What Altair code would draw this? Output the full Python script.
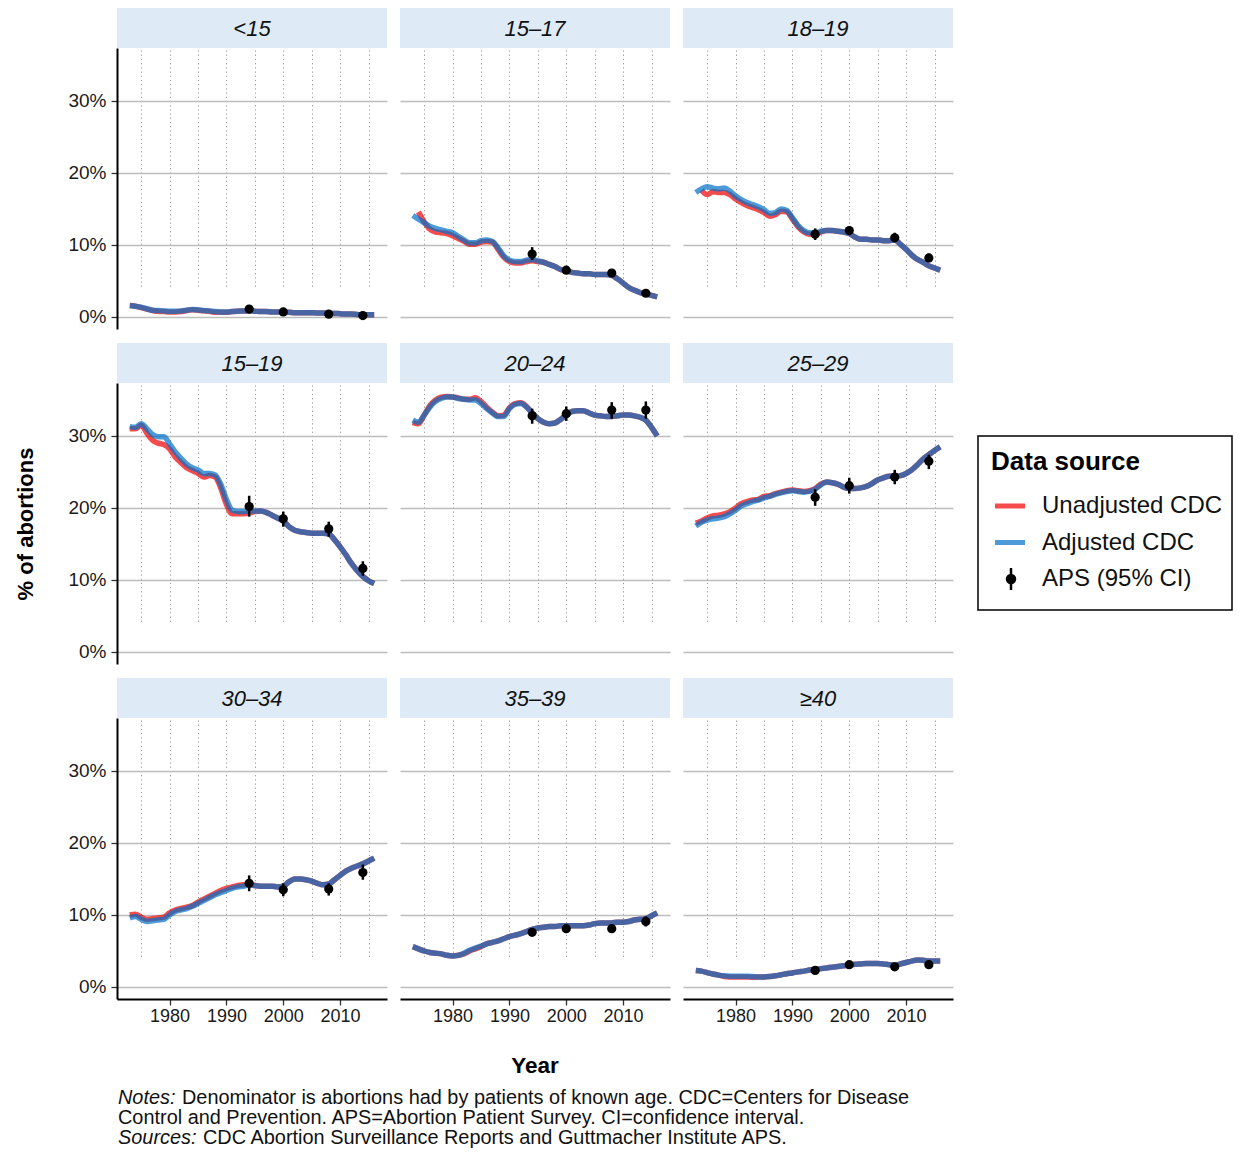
import altair as alt
import pandas as pd

# ---------------- data ----------------
YEARS = list(range(1973, 2017))
GROUPS = ["<15", "15–17", "18–19", "15–19", "20–24", "25–29", "30–34", "35–39", "≥40"]

ADJUSTED = {
    "<15": [1.55, 1.5, 1.35, 1.15, 0.95, 0.9, 0.85, 0.8, 0.8, 0.85,
            0.95, 1.05, 1.0, 0.9, 0.85, 0.75, 0.7, 0.7, 0.75, 0.8,
            0.85, 0.85, 0.8, 0.75, 0.75, 0.7, 0.7, 0.65, 0.65, 0.6,
            0.6, 0.6, 0.6, 0.55, 0.55, 0.5, 0.5, 0.45, 0.4, 0.4,
            0.35, 0.3, 0.3, 0.3],
    "15–17": [14.1, 13.6, 13.1, 12.6, 12.3, 12.1, 11.9, 11.7, 11.2, 10.7,
              10.3, 10.3, 10.6, 10.7, 10.5, 9.6, 8.5, 7.9, 7.7, 7.7,
              7.9, 8.0, 7.8, 7.6, 7.3, 7.0, 6.6, 6.4, 6.2, 6.1,
              6.0, 6.0, 5.9, 5.9, 5.9, 5.8, 5.3, 4.7, 4.1, 3.7,
              3.4, 3.2, 3.0, 2.8],
    "18–19": [17.3, 17.8, 18.1, 17.9, 17.8, 17.9, 17.5, 16.8, 16.3, 15.9,
              15.6, 15.3, 14.9, 14.4, 14.5, 15.0, 14.8, 13.8, 12.7, 12.0,
              11.7, 11.7, 11.9, 12.0, 12.0, 11.9, 11.8, 11.6, 11.1, 10.8,
              10.8, 10.7, 10.7, 10.6, 10.6, 10.7, 10.1, 9.4, 8.6, 8.0,
              7.6, 7.1, 6.8, 6.5],
    "15–19": [31.3, 31.2, 31.7, 31.0, 30.2, 29.9, 29.9, 28.9, 27.8, 26.9,
              26.1, 25.6, 25.3, 24.8, 24.8, 24.6, 23.3, 21.2, 19.7, 19.5,
              19.5, 19.6, 19.6, 19.6, 19.4, 19.0, 18.6, 18.2, 17.4, 16.9,
              16.7, 16.6, 16.5, 16.5, 16.5, 16.4, 15.6, 14.6, 13.5, 12.3,
              11.3, 10.5, 9.9, 9.5],
    "20–24": [32.2, 31.9, 32.9, 34.0, 34.8, 35.2, 35.4, 35.4, 35.2, 35.1,
              35.0, 35.0, 34.5, 33.8, 33.2, 32.7, 32.7, 33.8, 34.4, 34.5,
              34.0, 33.2, 32.4, 31.9, 31.7, 31.8, 32.3, 32.9, 33.4, 33.5,
              33.5, 33.2, 32.9, 32.8, 32.7, 32.7, 32.8, 32.9, 32.9, 32.8,
              32.6, 32.2, 31.2, 30.0],
    "25–29": [17.5, 18.0, 18.3, 18.5, 18.6, 18.8, 19.2, 19.7, 20.3, 20.6,
              20.9, 21.1, 21.4, 21.6, 21.9, 22.1, 22.3, 22.4, 22.3, 22.2,
              22.3, 22.6, 23.2, 23.6, 23.5, 23.3, 22.9, 22.7, 22.7, 22.8,
              23.0, 23.4, 23.9, 24.2, 24.4, 24.4, 24.5, 24.8, 25.3, 26.0,
              26.8, 27.4, 28.0, 28.5],
    "30–34": [9.6, 9.8, 9.4, 9.1, 9.2, 9.3, 9.4, 10.0, 10.5, 10.7,
              10.9, 11.2, 11.6, 12.0, 12.4, 12.8, 13.1, 13.4, 13.7, 13.9,
              14.0, 14.2, 14.1, 14.0, 14.0, 14.0, 13.9, 14.0, 14.6, 15.0,
              15.0, 14.9, 14.7, 14.4, 14.2, 14.3, 14.9, 15.5, 16.1, 16.5,
              16.8, 17.1, 17.5, 17.9],
    "35–39": [5.6, 5.3, 5.0, 4.8, 4.7, 4.6, 4.4, 4.3, 4.4, 4.7,
              5.1, 5.4, 5.7, 6.0, 6.2, 6.4, 6.7, 7.0, 7.2, 7.4,
              7.7, 8.0, 8.2, 8.3, 8.4, 8.4, 8.5, 8.5, 8.5, 8.5,
              8.5, 8.6, 8.8, 8.9, 8.9, 8.9, 9.0, 9.0, 9.1, 9.3,
              9.4, 9.5, 9.9, 10.3],
    "≥40": [2.3, 2.2, 2.0, 1.8, 1.65, 1.55, 1.5, 1.5, 1.5, 1.5,
            1.45, 1.4, 1.4, 1.45, 1.55, 1.7, 1.85, 1.95, 2.1, 2.2,
            2.35, 2.45, 2.55, 2.65, 2.75, 2.85, 2.95, 3.05, 3.15, 3.2,
            3.25, 3.25, 3.25, 3.2, 3.1, 3.05, 3.2, 3.4, 3.6, 3.75,
            3.7, 3.6, 3.6, 3.6],
}

UNADJUSTED = {
    "<15": [1.6, 1.5, 1.3, 1.1, 0.9, 0.8, 0.75, 0.7, 0.7, 0.75,
            0.9, 1.0, 0.95, 0.85, 0.8, 0.65, 0.65, 0.65, 0.75, 0.8,
            0.85, 0.85, 0.8, 0.75, 0.75, 0.7, 0.7, 0.65, 0.65, 0.6,
            0.6, 0.6, 0.6, 0.55, 0.55, 0.5, 0.5, 0.45, 0.4, 0.4,
            0.35, 0.3, 0.3, 0.3],
    "15–17": [None, 14.6, 13.2, 12.2, 11.8, 11.7, 11.6, 11.3, 10.9, 10.5,
              10.1, 10.1, 10.4, 10.5, 10.4, 9.4, 8.3, 7.7, 7.5, 7.5,
              7.7, 7.8, 7.7, 7.6, 7.3, 7.0, 6.6, 6.4, 6.2, 6.1,
              6.0, 6.0, 5.9, 5.9, 5.9, 5.8, 5.3, 4.7, 4.1, 3.7,
              3.4, 3.2, 3.0, 2.8],
    "18–19": [None, 17.6, 17.0, 17.4, 17.3, 17.3, 17.0, 16.4, 15.9, 15.5,
              15.2, 14.9, 14.5, 14.0, 14.2, 14.7, 14.6, 13.6, 12.5, 11.8,
              11.5, 11.5, 11.8, 12.0, 12.0, 11.9, 11.8, 11.6, 11.1, 10.8,
              10.8, 10.7, 10.7, 10.6, 10.6, 10.7, 10.1, 9.4, 8.6, 8.0,
              7.6, 7.1, 6.8, 6.5],
    "15–19": [31.0, 31.0, 31.5, 30.4, 29.4, 29.0, 28.8, 28.2, 27.1, 26.3,
              25.6, 25.2, 24.8, 24.3, 24.5, 24.3, 22.8, 20.5, 19.2, 19.2,
              19.2, 19.3, 19.5, 19.6, 19.4, 19.0, 18.6, 18.2, 17.4, 16.9,
              16.7, 16.6, 16.5, 16.5, 16.5, 16.4, 15.6, 14.6, 13.5, 12.3,
              11.3, 10.5, 9.9, 9.5],
    "20–24": [31.9, 31.7, 32.9, 34.2, 35.0, 35.4, 35.5, 35.4, 35.3, 35.1,
              35.1, 35.3, 34.8, 34.0, 33.3, 32.8, 32.9, 33.9, 34.5, 34.6,
              34.1, 33.2, 32.4, 31.9, 31.7, 31.8, 32.3, 32.9, 33.4, 33.5,
              33.5, 33.2, 32.9, 32.8, 32.7, 32.7, 32.8, 32.9, 32.9, 32.8,
              32.6, 32.2, 31.2, 30.0],
    "25–29": [17.9, 18.2, 18.6, 18.9, 19.0, 19.2, 19.5, 20.0, 20.6, 20.9,
              21.1, 21.2, 21.6, 21.7, 22.0, 22.2, 22.4, 22.5, 22.4, 22.3,
              22.4, 22.7, 23.3, 23.6, 23.5, 23.3, 22.9, 22.7, 22.7, 22.8,
              23.0, 23.4, 23.9, 24.2, 24.4, 24.4, 24.5, 24.8, 25.3, 26.0,
              26.8, 27.4, 28.0, 28.5],
    "30–34": [10.0, 10.1, 9.7, 9.4, 9.5, 9.6, 9.7, 10.3, 10.7, 10.9,
              11.1, 11.3, 11.8, 12.2, 12.6, 13.0, 13.4, 13.7, 13.9, 14.1,
              14.2, 14.3, 14.1, 14.0, 14.0, 14.0, 13.9, 14.0, 14.6, 15.0,
              15.0, 14.9, 14.7, 14.4, 14.2, 14.3, 14.9, 15.5, 16.1, 16.5,
              16.8, 17.1, 17.5, 17.9],
    "35–39": [5.6, 5.3, 5.0, 4.8, 4.7, 4.6, 4.4, 4.3, 4.4, 4.6,
              5.0, 5.3, 5.6, 6.0, 6.2, 6.4, 6.7, 7.0, 7.2, 7.4,
              7.7, 8.0, 8.2, 8.3, 8.4, 8.4, 8.5, 8.5, 8.5, 8.5,
              8.5, 8.6, 8.8, 8.9, 8.9, 8.9, 9.0, 9.0, 9.1, 9.3,
              9.4, 9.5, 9.9, 10.3],
    "≥40": [2.3, 2.2, 2.0, 1.8, 1.65, 1.45, 1.4, 1.4, 1.4, 1.4,
            1.35, 1.4, 1.4, 1.45, 1.55, 1.7, 1.85, 1.95, 2.1, 2.2,
            2.35, 2.45, 2.55, 2.65, 2.75, 2.85, 2.95, 3.05, 3.15, 3.2,
            3.25, 3.25, 3.25, 3.2, 3.1, 3.05, 3.2, 3.4, 3.6, 3.75,
            3.7, 3.6, 3.6, 3.6],
}

APS_YEARS = [1994, 2000, 2008, 2014]
APS_EST = {
    "<15": [1.1, 0.7, 0.4, 0.2], "15–17": [8.75, 6.5, 6.1, 3.3],
    "18–19": [11.5, 12.0, 11.0, 8.2], "15–19": [20.2, 18.5, 17.1, 11.6],
    "20–24": [32.8, 33.1, 33.6, 33.6], "25–29": [21.5, 23.1, 24.3, 26.5],
    "30–34": [14.4, 13.5, 13.6, 15.9], "35–39": [7.6, 8.1, 8.1, 9.1],
    "≥40": [2.3, 3.1, 2.8, 3.1],
}
APS_LO = {
    "<15": [0.9, 0.55, 0.3, 0.1], "15–17": [7.9, 6.1, 5.7, 3.0],
    "18–19": [10.7, 11.5, 10.4, 7.6], "15–19": [18.8, 17.4, 16.0, 10.6],
    "20–24": [31.7, 32.1, 32.4, 32.4], "25–29": [20.3, 22.0, 23.3, 25.4],
    "30–34": [13.3, 12.6, 12.7, 14.9], "35–39": [7.1, 7.6, 7.6, 8.4],
    "≥40": [2.0, 2.8, 2.5, 2.8],
}
APS_HI = {
    "<15": [1.3, 0.85, 0.5, 0.3], "15–17": [9.7, 6.9, 6.5, 3.6],
    "18–19": [12.3, 12.6, 11.7, 8.8], "15–19": [21.7, 19.5, 18.1, 12.6],
    "20–24": [33.8, 34.1, 34.7, 34.8], "25–29": [22.6, 24.2, 25.3, 27.4],
    "30–34": [15.5, 14.4, 14.4, 17.0], "35–39": [8.1, 8.6, 8.6, 9.8],
    "≥40": [2.6, 3.4, 3.1, 3.4],
}

X_TICKS = [1975, 1980, 1985, 1990, 1995, 2000, 2005, 2010, 2015]
Y_TICKS = [0, 10, 20, 30]
LEGEND_TITLE = "Data source"
LEGEND_LABELS = ["Unadjusted CDC", "Adjusted CDC", "APS (95% CI)"]
Y_TITLE = "% of abortions"
X_TITLE = "Year"
NOTE_LEADS = ["Notes:", "", "Sources:"]
NOTE_BODIES = [
    "Denominator is abortions had by patients of known age. CDC=Centers for Disease",
    "Control and Prevention. APS=Abortion Patient Survey. CI=confidence interval.",
    "CDC Abortion Surveillance Reports and Guttmacher Institute APS.",
]

# ---------------- styling ----------------
FONT = "Liberation Sans"
RED = "#ef0000"
BLUE = "#006fc7"
LINE_OPACITY = 0.7
STRIP_FILL = "#deebf7"
W, H = 270, 321
STRIP = 40
COL_GAP, ROW_GAP = 13, 14
XDOM = [1970.75, 2018.25]
YDOM = [-1.667, 37.36]
YRANGE = [H, STRIP]
NOTE_SIZE = 19.9

xs = alt.Scale(domain=XDOM, nice=False, zero=False)
ys = alt.Scale(domain=YDOM, range=YRANGE, nice=False, zero=False)


def panel(i):
    g = GROUPS[i]
    r, c = divmod(i, 3)
    bottom = r == 2
    left = c == 0

    xa = dict(values=X_TICKS, grid=True, gridDash=[1.2, 3], gridColor="#999999",
              gridWidth=1, title=None, labels=bottom, ticks=bottom, domain=bottom)
    if bottom:
        xa.update(labelExpr="datum.value % 10 === 0 ? '' + datum.value : ''",
                  labelOverlap=False, labelFlush=False,
                  tickOpacity={"condition": {"test": "datum.value % 10 === 0", "value": 1}, "value": 0},
                  tickSize=6, tickColor="#333333", tickWidth=1.3,
                  domainColor="#000000", domainWidth=2,
                  labelFont=FONT, labelFontSize=18, labelColor="#1a1a1a", labelPadding=2)
    ya = dict(values=Y_TICKS, grid=True, gridColor="#bdbdbd", gridWidth=1.6,
              labels=left, ticks=left, domain=left)
    if left:
        ya.update(labelExpr="datum.value + '%'", tickSize=6, tickColor="#333333",
                  tickWidth=1.3, domainColor="#000000", domainWidth=2,
                  labelFont=FONT, labelFontSize=19, labelColor="#1a1a1a", labelPadding=5)
    if i == 3:
        ya.update(title=Y_TITLE, titleX=-92, titleBaseline="middle", titleFont=FONT,
                  titleFontSize=22, titleFontWeight="bold", titleColor="#000000")
    else:
        ya.update(title=None)
    xaxis = alt.Axis(**xa)
    yaxis = alt.Axis(**ya)

    adj = pd.DataFrame({"year": YEARS, "value": ADJUSTED[g]})
    unadj = pd.DataFrame({"year": YEARS, "value": UNADJUSTED[g]}).dropna()
    aps = pd.DataFrame({"year": APS_YEARS, "est": APS_EST[g], "lo": APS_LO[g], "hi": APS_HI[g]})
    lab = pd.DataFrame({"g": [g]})

    strip = alt.Chart(lab).mark_rect(color=STRIP_FILL).encode(
        x=alt.value(0), x2=alt.value(W), y=alt.value(0), y2=alt.value(STRIP))
    strip_text = alt.Chart(lab).mark_text(font=FONT, fontSize=22, fontStyle="italic",
                                          color="#111111", baseline="middle").encode(
        text="g:N", x=alt.value(W / 2), y=alt.value(STRIP / 2 + 1))

    def X(f):
        return alt.X(f, type="quantitative", scale=xs, axis=xaxis)

    def Y(f):
        return alt.Y(f, type="quantitative", scale=ys, axis=yaxis)

    red = alt.Chart(unadj).mark_line(color=RED, opacity=LINE_OPACITY, strokeWidth=5.5,
                                     interpolate="monotone").encode(x=X("year"), y=Y("value"))
    blue = alt.Chart(adj).mark_line(color=BLUE, opacity=LINE_OPACITY, strokeWidth=5.5,
                                    interpolate="monotone").encode(x=X("year"), y=Y("value"))
    ci = alt.Chart(aps).mark_rule(color="#000000", strokeWidth=2.5).encode(
        x=X("year"), y=Y("lo"), y2="hi:Q")
    pts = alt.Chart(aps).mark_circle(color="#000000", opacity=1, size=85).encode(
        x=X("year"), y=Y("est"))

    return alt.layer(strip, red, blue, ci, pts, strip_text).properties(width=W, height=H)


# ---------------- legend ----------------
leg_df = pd.DataFrame({"label": LEGEND_LABELS})
leg_y = alt.Scale(type="point", domain=LEGEND_LABELS, range=[163, 236], padding=0)
LW = 266
box = alt.Chart(pd.DataFrame({"t": [LEGEND_TITLE]})).mark_rect(
    fill="#ffffff", stroke="#000000", strokeWidth=1.5).encode(
    x=alt.value(12), x2=alt.value(LW), y=alt.value(93), y2=alt.value(267))
leg_title = alt.Chart(pd.DataFrame({"t": [LEGEND_TITLE]})).mark_text(
    font=FONT, fontSize=26, fontWeight="bold", align="left", baseline="alphabetic",
    color="#000000").encode(text="t:N", x=alt.value(25), y=alt.value(127))
leg_lines = alt.Chart(leg_df).transform_filter(
    alt.FieldOneOfPredicate(field="label", oneOf=LEGEND_LABELS[:2])).mark_rule(
    strokeWidth=5, opacity=LINE_OPACITY).encode(
    y=alt.Y("label:N", scale=leg_y, axis=None),
    x=alt.value(29), x2=alt.value(59),
    color=alt.Color("label:N", scale=alt.Scale(domain=LEGEND_LABELS[:2], range=[RED, BLUE]),
                    legend=None))
leg_ci = alt.Chart(leg_df).transform_filter(
    alt.FieldEqualPredicate(field="label", equal=LEGEND_LABELS[2])).mark_rule(
    color="#000000", strokeWidth=2.5).encode(
    x=alt.value(45), y=alt.value(225), y2=alt.value(247))
leg_pt = alt.Chart(leg_df).transform_filter(
    alt.FieldEqualPredicate(field="label", equal=LEGEND_LABELS[2])).mark_circle(
    color="#000000", opacity=1, size=110).encode(
    x=alt.value(45), y=alt.Y("label:N", scale=leg_y, axis=None))
leg_text = alt.Chart(leg_df).mark_text(
    font=FONT, fontSize=24, align="left", baseline="middle", color="#111111").encode(
    text="label:N", x=alt.value(76), y=alt.Y("label:N", scale=leg_y, axis=None))
legend = alt.layer(box, leg_title, leg_lines, leg_ci, leg_pt, leg_text).properties(
    width=LW, height=H)

# ---------------- footer ----------------
FW = 3 * W + 2 * COL_GAP
NOTE_Y = [85, 105, 125]
NOTE_INDENT = [64, 0, 85]
foot_layers = [
    alt.Chart(pd.DataFrame({"t": [X_TITLE]})).mark_text(
        font=FONT, fontSize=22.5, fontWeight="bold", baseline="middle", color="#000000").encode(
        text="t:N", x=alt.value(FW / 2), y=alt.value(53))
]
for k in range(3):
    if NOTE_LEADS[k]:
        foot_layers.append(alt.Chart(pd.DataFrame({"t": [NOTE_LEADS[k]]})).mark_text(
            font=FONT, fontSize=NOTE_SIZE, fontStyle="italic", align="left", baseline="middle",
            color="#111111").encode(text="t:N", x=alt.value(1), y=alt.value(NOTE_Y[k])))
    foot_layers.append(alt.Chart(pd.DataFrame({"t": [NOTE_BODIES[k]]})).mark_text(
        font=FONT, fontSize=NOTE_SIZE, align="left", baseline="middle",
        color="#111111").encode(text="t:N", x=alt.value(1 + NOTE_INDENT[k]), y=alt.value(NOTE_Y[k])))
# footer view is one column wide; its texts run on to the right
footer = alt.layer(*foot_layers).properties(width=W, height=122)


def blank():
    return alt.Chart(pd.DataFrame({"t": [0]})).mark_rule(opacity=0, strokeWidth=0).encode(
        x=alt.value(0), y=alt.value(0), y2=alt.value(1)).properties(width=1, height=1)


# ---------------- assemble (one flush grid, 4 columns) ----------------
p = [panel(i) for i in range(9)]
items = [p[0], p[1], p[2], blank(),
         p[3], p[4], p[5], legend,
         p[6], p[7], p[8], blank(),
         footer]

chart = alt.concat(*items, columns=4, bounds="flush",
                   spacing={"row": ROW_GAP, "column": COL_GAP}).properties(
    padding={"left": 6, "top": 0, "right": 0, "bottom": 0}
).configure(font=FONT, background="#ffffff").configure_view(stroke=None, strokeWidth=0)

chart.save("out.html", embed_options={"renderer": "svg", "actions": False})
